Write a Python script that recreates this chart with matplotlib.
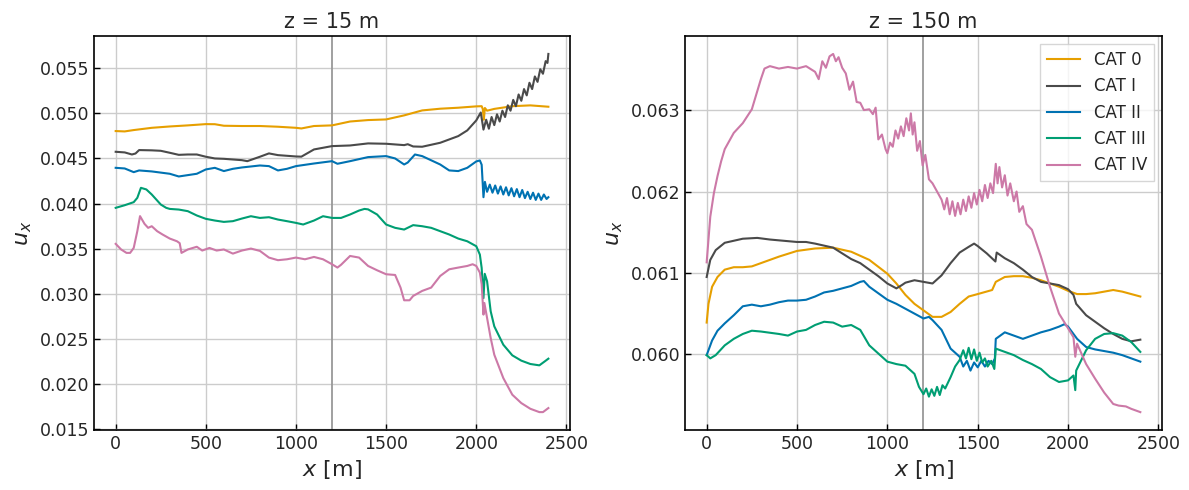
import matplotlib
matplotlib.use("Agg")
import matplotlib.pyplot as plt

plt.rcParams["text.color"] = "#262626"
plt.rcParams["axes.labelcolor"] = "#262626"
plt.rcParams["xtick.labelcolor"] = "#262626"
plt.rcParams["ytick.labelcolor"] = "#262626"

# ---------------- data : z = 15 m ----------------
x15_cat0 = [0, 50, 100, 200, 300, 400, 500, 550, 600, 700, 800, 900, 1000, 1030, 1100, 1200,
            1300, 1400, 1500, 1600, 1700, 1800, 1900, 2000, 2030, 2036, 2042, 2048, 2060, 2100,
            2200, 2300, 2400]
u15_cat0 = [0.04804, 0.0480, 0.04815, 0.0484, 0.04855, 0.04867, 0.04881, 0.0488, 0.04863, 0.0486,
            0.0486, 0.04852, 0.0484, 0.04833, 0.0486, 0.04867, 0.0491, 0.04926, 0.04933, 0.04978,
            0.05033, 0.05052, 0.05063, 0.05078, 0.0508, 0.0505, 0.0493, 0.0506, 0.0503, 0.0505,
            0.0508, 0.05089, 0.05074]

x15_cat1 = [0, 50, 90, 110, 130, 200, 250, 300, 350, 400, 450, 500, 550, 600, 700, 730, 800, 850,
            900, 1000, 1030, 1100, 1200, 1300, 1400, 1500, 1600, 1620, 1650, 1700, 1800, 1900,
            1950, 2000, 2025,
            2040, 2055, 2070, 2085, 2100, 2115, 2130, 2145, 2160, 2175, 2190, 2205, 2220, 2235,
            2250, 2265, 2280, 2295, 2310, 2325, 2340, 2355, 2370, 2385, 2395, 2400]
u15_cat1 = [0.04574, 0.04567, 0.04544, 0.04555, 0.04593, 0.0459, 0.04585, 0.04563, 0.0454, 0.04544,
            0.04544, 0.04519, 0.0450, 0.04496, 0.04481, 0.0447, 0.04519, 0.04556, 0.04537, 0.04522,
            0.0452, 0.0460, 0.04637, 0.04644, 0.04667, 0.04663, 0.04648, 0.04658, 0.04633, 0.0463,
            0.04674, 0.04748, 0.04811, 0.04922, 0.0501,
            0.0482, 0.0493, 0.0483, 0.0496, 0.0487, 0.0499, 0.0491, 0.0503, 0.0496, 0.0509,
            0.0503, 0.0515, 0.0508, 0.0521, 0.0514, 0.0527, 0.0520, 0.0534, 0.0527, 0.0541,
            0.0535, 0.0549, 0.0544, 0.0558, 0.0556, 0.0566]

x15_cat2 = [0, 50, 100, 130, 200, 300, 350, 400, 450, 500, 550, 600, 650, 700, 800, 850, 900, 950,
            1000, 1100, 1200, 1230, 1300, 1400, 1500, 1550, 1600, 1620, 1660, 1700, 1800, 1850,
            1900, 1950, 2000, 2020, 2030, 2040, 2048, 2060, 2075, 2090, 2105, 2120, 2135, 2150,
            2165, 2180, 2195, 2210, 2225, 2240, 2255, 2270, 2285, 2300, 2315, 2330, 2345, 2360,
            2375, 2390, 2400]
u15_cat2 = [0.04396, 0.04389, 0.04348, 0.04367, 0.04356, 0.0433, 0.0430, 0.04315, 0.0433, 0.04378,
            0.04396, 0.0436, 0.04385, 0.0440, 0.04422, 0.04415, 0.04367, 0.04385, 0.04415, 0.04444,
            0.0447, 0.04441, 0.0447, 0.04515, 0.04526, 0.0450, 0.04433, 0.04455, 0.04544, 0.04526,
            0.04433, 0.04367, 0.0436, 0.04396, 0.04467, 0.04478, 0.0443, 0.0407, 0.0424, 0.0413,
            0.0421, 0.0412, 0.0420, 0.0411, 0.0419, 0.0410, 0.0418, 0.0409, 0.0417, 0.0408,
            0.0416, 0.0407, 0.0415, 0.0406, 0.0413, 0.0405, 0.0412, 0.0404, 0.0411, 0.0404,
            0.0410, 0.0405, 0.0407]

x15_cat3 = [0, 50, 100, 120, 140, 170, 200, 250, 280, 300, 350, 400, 450, 500, 550, 600, 650, 700,
            750, 800, 850, 900, 950, 1000, 1040, 1100, 1150, 1200, 1250, 1300, 1350, 1380, 1400,
            1450, 1500, 1550, 1600, 1650, 1700, 1750, 1800, 1850, 1900, 1950, 2000, 2020, 2030,
            2040, 2047, 2060, 2080, 2100, 2150, 2200, 2250, 2300, 2350, 2380, 2400]
u15_cat3 = [0.03952, 0.03981, 0.04015, 0.04063, 0.04174, 0.04156, 0.0410, 0.03989, 0.03952, 0.0394,
            0.03933, 0.03915, 0.03867, 0.0383, 0.03811, 0.03796, 0.03804, 0.03833, 0.03859, 0.0384,
            0.03848, 0.03822, 0.03804, 0.03785, 0.03767, 0.03811, 0.03859, 0.0384, 0.0384, 0.03878,
            0.03922, 0.0394, 0.03935, 0.03878, 0.03767, 0.0373, 0.03711, 0.0376, 0.03748, 0.0373,
            0.03693, 0.03656, 0.03611, 0.03581, 0.03526, 0.03433, 0.03285, 0.0295, 0.0322, 0.03137,
            0.02804, 0.02637, 0.02433, 0.02315, 0.02256, 0.02219, 0.02204, 0.02248, 0.02278]

x15_cat4 = [0, 30, 60, 80, 100, 120, 135, 160, 180, 200, 230, 260, 300, 340, 355, 365, 400, 450,
            480, 520, 560, 600, 650, 700, 750, 800, 850, 900, 950, 1000, 1050, 1100, 1150, 1200,
            1230, 1250, 1300, 1350, 1400, 1450, 1500, 1550, 1580, 1600, 1630, 1650, 1700, 1750,
            1800, 1850, 1900, 1950, 1980, 2000, 2020, 2030, 2040, 2045, 2060, 2080, 2100, 2150,
            2200, 2250, 2300, 2350, 2370, 2400]
u15_cat4 = [0.03552, 0.0349, 0.03452, 0.03452, 0.03507, 0.03693, 0.0386, 0.03774, 0.0373, 0.03748,
            0.03693, 0.03656, 0.03611, 0.03581, 0.0356, 0.03452, 0.0349, 0.0352, 0.03478, 0.03507,
            0.03478, 0.0349, 0.03444, 0.03478, 0.035, 0.03474, 0.0340, 0.03371, 0.03381, 0.0340,
            0.03381, 0.03407, 0.03381, 0.03326, 0.03289, 0.0332, 0.03418, 0.0340, 0.03307, 0.03259,
            0.03215, 0.03207, 0.03067, 0.02926, 0.02926, 0.02974, 0.0303, 0.03067, 0.03196, 0.0327,
            0.03289, 0.03307, 0.03326, 0.03307, 0.03233, 0.03104, 0.02767, 0.02896, 0.0273, 0.02507,
            0.02322, 0.02063, 0.01878, 0.01785, 0.01722, 0.01685, 0.01685, 0.0173]

# ---------------- data : z = 150 m ----------------
x150_cat0 = [0, 10, 30, 60, 100, 150, 200, 250, 300, 400, 500, 600, 700, 800, 900, 1000, 1050,
             1100, 1150, 1200, 1250, 1300, 1350, 1400, 1450, 1500, 1580, 1600, 1650, 1700, 1750,
             1800, 1850, 1900, 1950, 2000, 2050, 2100, 2150, 2200, 2250, 2300, 2350, 2400]
u150_cat0 = [0.06039, 0.06062, 0.06083, 0.06095, 0.06104, 0.06107, 0.06107, 0.06108, 0.06112,
             0.0612, 0.06127, 0.0613, 0.06131, 0.06126, 0.06116, 0.06099, 0.06087, 0.06073,
             0.06062, 0.06054, 0.06046, 0.06046, 0.06052, 0.06062, 0.06071, 0.06074, 0.06079,
             0.06089, 0.06095, 0.06096, 0.06096, 0.06094, 0.06091, 0.06087, 0.06083, 0.06078,
             0.06074, 0.06074, 0.06075, 0.06077, 0.06079, 0.06077, 0.06074, 0.06071]

x150_cat1 = [0, 20, 50, 100, 200, 280, 350, 400, 500, 550, 600, 700, 750, 800, 850, 900, 950,
             1000, 1050, 1080, 1100, 1150, 1200, 1250, 1300, 1350, 1400, 1450, 1480, 1500, 1550,
             1598, 1605, 1650, 1700, 1750, 1800, 1850, 1900, 1950, 2000, 2030, 2045, 2100, 2150,
             2200, 2250, 2300, 2350, 2400]
u150_cat1 = [0.06095, 0.06116, 0.06128, 0.06137, 0.06142, 0.06143, 0.06141, 0.0614, 0.06138,
             0.06138, 0.06136, 0.06131, 0.06124, 0.06117, 0.06112, 0.06104, 0.06096, 0.06087,
             0.06081, 0.06085, 0.06088, 0.06091, 0.06089, 0.06087, 0.06097, 0.06112, 0.06125,
             0.06132, 0.06136, 0.06133, 0.06124, 0.06114, 0.06125, 0.06118, 0.06112, 0.06104,
             0.06095, 0.06089, 0.06087, 0.06085, 0.0608, 0.06073, 0.06062, 0.06048, 0.0604,
             0.06032, 0.06025, 0.06019, 0.06016, 0.06018]

x150_cat2 = [0, 30, 60, 100, 150, 200, 250, 300, 350, 400, 450, 500, 550, 600, 650, 700, 750, 800,
             850, 870, 900, 950, 1000, 1050, 1100, 1150, 1200, 1230, 1250, 1300, 1350, 1400, 1420,
             1440, 1460, 1480, 1500, 1520, 1540, 1560, 1580, 1595, 1600, 1650, 1700, 1750, 1800,
             1850, 1900, 1950, 1980, 2000, 2050, 2100, 2150, 2200, 2250, 2300, 2350, 2400]
u150_cat2 = [0.05999, 0.06017, 0.06029, 0.06038, 0.06048, 0.06059, 0.06061, 0.06059, 0.06061,
             0.06064, 0.06066, 0.06066, 0.06067, 0.06071, 0.06076, 0.06078, 0.06081, 0.06084,
             0.06089, 0.0609, 0.06083, 0.06075, 0.06067, 0.06062, 0.06056, 0.0605, 0.06044,
             0.06046, 0.06042, 0.0603, 0.06007, 0.05997, 0.05985, 0.05992, 0.0598, 0.0599,
             0.05984, 0.05992, 0.05985, 0.05992, 0.05988, 0.05995, 0.06019, 0.06027, 0.06023,
             0.06019, 0.06023, 0.06027, 0.0603, 0.06034, 0.06037, 0.06034, 0.06019, 0.06009,
             0.06006, 0.06004, 0.06002, 0.05999, 0.05995, 0.05991]

x150_cat3 = [0, 20, 50, 100, 150, 200, 250, 300, 400, 450, 500, 550, 600, 650, 700, 750, 800, 850,
             900, 950, 1000, 1050, 1100, 1150, 1175, 1200, 1215, 1230, 1245, 1260, 1275, 1290,
             1305, 1320, 1350, 1375, 1400, 1420, 1435, 1450, 1465, 1480, 1495, 1510, 1525, 1540,
             1555, 1575, 1592, 1600, 1650, 1700, 1750, 1800, 1850, 1900, 1950, 2000, 2030, 2040,
             2045, 2100, 2150, 2200, 2250, 2300, 2350, 2400]
u150_cat3 = [0.05999, 0.05995, 0.05999, 0.06011, 0.06019, 0.06025, 0.06029, 0.06028, 0.06025,
             0.06023, 0.06028, 0.0603, 0.06036, 0.0604, 0.06039, 0.06034, 0.06036, 0.0603,
             0.06011, 0.06001, 0.05991, 0.05988, 0.05986, 0.05976, 0.0596, 0.05951, 0.05958,
             0.05948, 0.05957, 0.05949, 0.0596, 0.0595, 0.05962, 0.05958, 0.05972, 0.05985,
             0.05993, 0.06005, 0.05995, 0.06008, 0.05994, 0.06006, 0.05992, 0.06002, 0.0599,
             0.05995, 0.05985, 0.05992, 0.05982, 0.06007, 0.06003, 0.05999, 0.05993, 0.05988,
             0.05982, 0.05972, 0.05966, 0.05968, 0.05974, 0.05956, 0.0598, 0.06005, 0.06019,
             0.06025, 0.06026, 0.06023, 0.06015, 0.06003]

x150_cat4 = [0, 20, 40, 60, 80, 100, 150, 200, 250, 300, 320, 350, 400, 450, 500, 550, 600, 620,
             640, 660, 680, 700, 715, 730, 750, 770, 790, 810, 830, 850, 870, 900, 920, 935, 950,
             970, 990, 1000, 1015, 1030, 1045, 1060, 1075, 1090, 1105, 1120, 1130, 1140, 1150,
             1165, 1180, 1195, 1210, 1230, 1250, 1300, 1315, 1330, 1345, 1360, 1375, 1390, 1405,
             1420, 1435, 1450, 1465, 1480, 1495, 1510, 1525, 1540, 1555, 1570, 1585, 1600, 1610,
             1620, 1635, 1650, 1665, 1680, 1700, 1715, 1730, 1750, 1770, 1800, 1850, 1900, 1950,
             2000, 2030, 2040, 2050, 2100, 2150, 2200, 2250, 2280, 2320, 2350, 2400]
u150_cat4 = [0.06113, 0.06169, 0.06198, 0.06219, 0.06237, 0.06252, 0.06272, 0.06284, 0.06301,
             0.06338, 0.06351, 0.06354, 0.06351, 0.06353, 0.06351, 0.06354, 0.06347, 0.06338,
             0.0636, 0.06352, 0.06366, 0.06369, 0.0636, 0.06365, 0.06352, 0.06345, 0.06325,
             0.06335, 0.0631, 0.06309, 0.0630, 0.06301, 0.06295, 0.06303, 0.06264, 0.0627,
             0.06252, 0.06247, 0.0626, 0.06255, 0.06275, 0.06265, 0.0628, 0.06268, 0.0629,
             0.06275, 0.06296, 0.0627, 0.06285, 0.0625, 0.06262, 0.06232, 0.06245, 0.06215,
             0.0621, 0.0619, 0.06178, 0.06192, 0.06172, 0.06188, 0.0617, 0.06186, 0.06172,
             0.0619, 0.06176, 0.06194, 0.0618, 0.06198, 0.06184, 0.06202, 0.06188, 0.06208,
             0.06192, 0.0621, 0.06198, 0.06234, 0.0621, 0.0623, 0.06205, 0.0622, 0.06195,
             0.0621, 0.06188, 0.062, 0.06175, 0.06182, 0.0616, 0.06153, 0.0612, 0.06083, 0.0605,
             0.06032, 0.06021, 0.05997, 0.06013, 0.05988, 0.0597, 0.05953, 0.05939, 0.05937,
             0.05936, 0.05933, 0.05929]

labels = ["CAT 0", "CAT I", "CAT II", "CAT III", "CAT IV"]
colors = ["#E69F00", "#4a4a4a", "#0072B2", "#009E73", "#CC79A7"]
titles = ["z = 15 m", "z = 150 m"]
x_marker = 1200

panels = [
    [(x15_cat0, u15_cat0), (x15_cat1, u15_cat1), (x15_cat2, u15_cat2),
     (x15_cat3, u15_cat3), (x15_cat4, u15_cat4)],
    [(x150_cat0, u150_cat0), (x150_cat1, u150_cat1), (x150_cat2, u150_cat2),
     (x150_cat3, u150_cat3), (x150_cat4, u150_cat4)],
]

fig = plt.figure(figsize=(11.89, 4.90), dpi=100)
axes = [fig.add_axes([0.0791, 0.1224, 0.4003, 0.8041]),
        fig.add_axes([0.5761, 0.1224, 0.4012, 0.8041])]

for ax, series, title in zip(axes, panels, titles):
    ax.set_axisbelow(True)
    ax.grid(True, color="#cccccc", linewidth=1.0)
    for (xs, us), lab, col in zip(series, labels, colors):
        ax.plot(xs, us, color=col, linewidth=1.5, label=lab)
    ax.axvline(x_marker, color="#999999", linewidth=1.3, zorder=1)
    ax.set_title(title, fontsize=15)
    ax.set_xlabel("$x$ [m]", fontsize=16)
    ax.set_ylabel("$u_x$", fontsize=16)
    ax.set_xticks([0, 500, 1000, 1500, 2000, 2500])
    ax.tick_params(direction="in", labelsize=12.5, length=4, width=1)
    for sp in ax.spines.values():
        sp.set_color("black")
        sp.set_linewidth(1.2)

axes[0].set_yticks([0.015, 0.020, 0.025, 0.030, 0.035, 0.040, 0.045, 0.050, 0.055])
axes[1].set_yticks([0.060, 0.061, 0.062, 0.063])
axes[0].yaxis.set_major_formatter(matplotlib.ticker.FormatStrFormatter("%.3f"))
axes[1].yaxis.set_major_formatter(matplotlib.ticker.FormatStrFormatter("%.3f"))
axes[0].set_xlim(-120, 2520)
axes[1].set_xlim(-120, 2520)

axes[1].legend(loc="upper right", fontsize=12, frameon=True, fancybox=False,
               edgecolor="#cccccc", handlelength=2.0)

fig.savefig("out.png", dpi=100)
